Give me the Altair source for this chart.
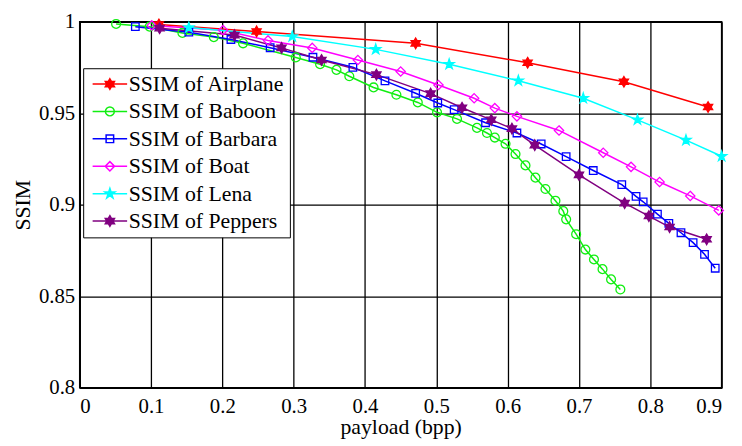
import altair as alt
import pandas as pd

series = ["SSIM of Airplane", "SSIM of Baboon", "SSIM of Barbara",
          "SSIM of Boat", "SSIM of Lena", "SSIM of Peppers"]
colors = ["#ff0000", "#11ee11", "#0000ff", "#ff00ff", "#00ffff", "#800080"]

airplane_x = [0.111, 0.248, 0.471, 0.628, 0.763, 0.881]
airplane_y = [0.9985, 0.9947, 0.9882, 0.9776, 0.9672, 0.9534]

baboon_x = [0.051, 0.098, 0.144, 0.188, 0.229, 0.303, 0.337, 0.360, 0.378, 0.412,
            0.444, 0.474, 0.501, 0.529, 0.557, 0.571, 0.582, 0.597, 0.611, 0.625,
            0.639, 0.653, 0.667, 0.678, 0.682, 0.696, 0.709, 0.721, 0.733, 0.745, 0.758]
baboon_y = [0.9988, 0.9973, 0.9939, 0.9916, 0.9882, 0.9805, 0.9768, 0.9737, 0.9702, 0.9641,
            0.9601, 0.9559, 0.9505, 0.9469, 0.9420, 0.9392, 0.9367, 0.9333, 0.9277, 0.9215,
            0.9148, 0.9086, 0.9022, 0.8965, 0.8920, 0.8839, 0.8755, 0.8701, 0.8648, 0.8592, 0.8537]

barbara_x = [0.078, 0.153, 0.212, 0.267, 0.327, 0.383, 0.428, 0.471, 0.502, 0.525,
             0.569, 0.613, 0.647, 0.682, 0.720, 0.760, 0.780, 0.790, 0.810, 0.826,
             0.843, 0.860, 0.876, 0.891]
barbara_y = [0.9973, 0.9943, 0.9903, 0.9858, 0.9806, 0.9751, 0.9677, 0.9609, 0.9556, 0.9520,
             0.9448, 0.9392, 0.9332, 0.9263, 0.9187, 0.9110, 0.9046, 0.9016, 0.8949, 0.8898,
             0.8847, 0.8793, 0.8729, 0.8653]

boat_x = [0.101, 0.201, 0.264, 0.326, 0.390, 0.450, 0.503, 0.553, 0.582, 0.613,
          0.672, 0.734, 0.773, 0.813, 0.856, 0.896]
boat_y = [0.9980, 0.9954, 0.9898, 0.9857, 0.9791, 0.9728, 0.9654, 0.9582, 0.9528, 0.9483,
          0.9406, 0.9284, 0.9207, 0.9124, 0.9048, 0.8969]

lena_x = [0.153, 0.298, 0.415, 0.518, 0.615, 0.706, 0.782, 0.850, 0.900]
lena_y = [0.9968, 0.9919, 0.9849, 0.9768, 0.9678, 0.9582, 0.9464, 0.9353, 0.9265]

peppers_x = [0.112, 0.217, 0.283, 0.339, 0.416, 0.492, 0.536, 0.577, 0.606, 0.638,
             0.700, 0.764, 0.798, 0.827, 0.879]
peppers_y = [0.9965, 0.9927, 0.9857, 0.9791, 0.9711, 0.9607, 0.9530, 0.9464, 0.9416, 0.9326,
             0.9163, 0.9009, 0.8938, 0.8878, 0.8811]

x_ticks = [0, 0.1, 0.2, 0.3, 0.4, 0.5, 0.6, 0.7, 0.8, 0.9]
y_ticks = [0.8, 0.85, 0.9, 0.95, 1]

# marker shapes (unit paths)
HEXAGRAM = ("M0,-1.2L0.346,-0.6L1.039,-0.6L0.693,0L1.039,0.6L0.346,0.6L0,1.2"
            "L-0.346,0.6L-1.039,0.6L-0.693,0L-1.039,-0.6L-0.346,-0.6Z")
CIRCLE = "M1,0A1,1,0,1,1,-1,0A1,1,0,1,1,1,0Z"
SQUARE = "M-0.85,-0.85L0.85,-0.85L0.85,0.85L-0.85,0.85Z"
DIAMOND = "M0,-1.05L1.05,0L0,1.05L-1.05,0Z"
PENTAGRAM = ("M0,-1.2L0.268,-0.368L1.141,-0.371L0.433,0.140L0.706,0.971L0,0.456"
             "L-0.706,0.971L-0.433,0.140L-1.141,-0.371L-0.268,-0.368Z")
shapes = [HEXAGRAM, CIRCLE, SQUARE, DIAMOND, PENTAGRAM, HEXAGRAM]
fills = ["#ff0000", "transparent", "transparent", "transparent", "#00ffff", "#800080"]

xs_all = [airplane_x, baboon_x, barbara_x, boat_x, lena_x, peppers_x]
ys_all = [airplane_y, baboon_y, barbara_y, boat_y, lena_y, peppers_y]
rows = []
for name, shp, fl, xs, ys in zip(series, shapes, fills, xs_all, ys_all):
    for xv, yv in zip(xs, ys):
        rows.append({"series": name, "marker": shp, "face": fl, "x": xv, "y": yv})
df = pd.DataFrame(rows)

FONT = "Liberation Serif"
LEGEND_LINE = "M-3.9,0L3.9,0"


def lookup_expr(values):
    expr = "'" + values[-1] + "'"
    for name, val in reversed(list(zip(series[:-1], values[:-1]))):
        expr = f"datum.value === '{name}' ? '{val}' : ({expr})"
    return expr


legend = alt.Legend(
    title=None, orient="none", legendX=3.5, legendY=47,
    fillColor="white", strokeColor="black", padding=5,
    labelFont=FONT, labelFontSize=22, labelColor="black",
    symbolSize=80, symbolStrokeWidth=1.5, symbolOffset=11,
    labelOffset=8, rowPadding=5.7,
)
# line-through-marker legend symbols (Vega-Lite legend encode option)
legend._kwds["encode"] = {"symbols": {"update": {
    "shape": {"signal": lookup_expr([LEGEND_LINE + s for s in shapes])},
    "fill": {"signal": lookup_expr(fills)},
}}}

xenc = alt.X("x:Q", scale=alt.Scale(domain=[0, 0.9], nice=False),
             axis=alt.Axis(values=x_ticks, format="~g", title="payload (bpp)"))
yenc = alt.Y("y:Q", scale=alt.Scale(domain=[0.8, 1], nice=False, zero=False),
             axis=alt.Axis(values=y_ticks, format="~g", title="SSIM"))
color_scale = alt.Scale(domain=series, range=colors)

lines = alt.Chart(df).mark_line(strokeWidth=1.5).encode(
    x=xenc, y=yenc,
    color=alt.Color("series:N", scale=color_scale, legend=legend),
)
points = alt.Chart(df).mark_point(size=80, strokeWidth=1.3, opacity=1).encode(
    x=xenc, y=yenc,
    color=alt.Color("series:N", scale=color_scale, legend=legend),
    shape=alt.Shape("marker:N", scale=None),
    fill=alt.Fill("face:N", scale=None),
)
chart = alt.layer(lines, points).properties(
    width=649, height=370,
    autosize=alt.AutoSizeParams(type="none"),
    padding={"left": 72.5, "top": 11.5, "right": 12.5, "bottom": 54},
).configure_axis(
    grid=True, gridColor="black", gridOpacity=1, gridWidth=1.3,
    domainColor="black", domainWidth=1.5, ticks=False,
    labelFont=FONT, labelFontSize=21, labelColor="black",
    titleFont=FONT, titleFontSize=22, titleColor="black", titleFontWeight="normal",
).configure_axisX(labelPadding=8, titlePadding=0
).configure_axisY(labelPadding=5, titlePadding=4
).configure_view(stroke="black", strokeWidth=1.5)

# the legend "encode" option is not in the published schema: skip validation
_cls_to_dict = type(chart).to_dict


def _to_dict_novalidate(*args, **kwargs):
    kwargs["validate"] = False
    return _cls_to_dict(chart, **kwargs)


object.__setattr__(chart, "to_dict", _to_dict_novalidate)

chart.save("out.html", embed_options={"renderer": "svg", "actions": False})
